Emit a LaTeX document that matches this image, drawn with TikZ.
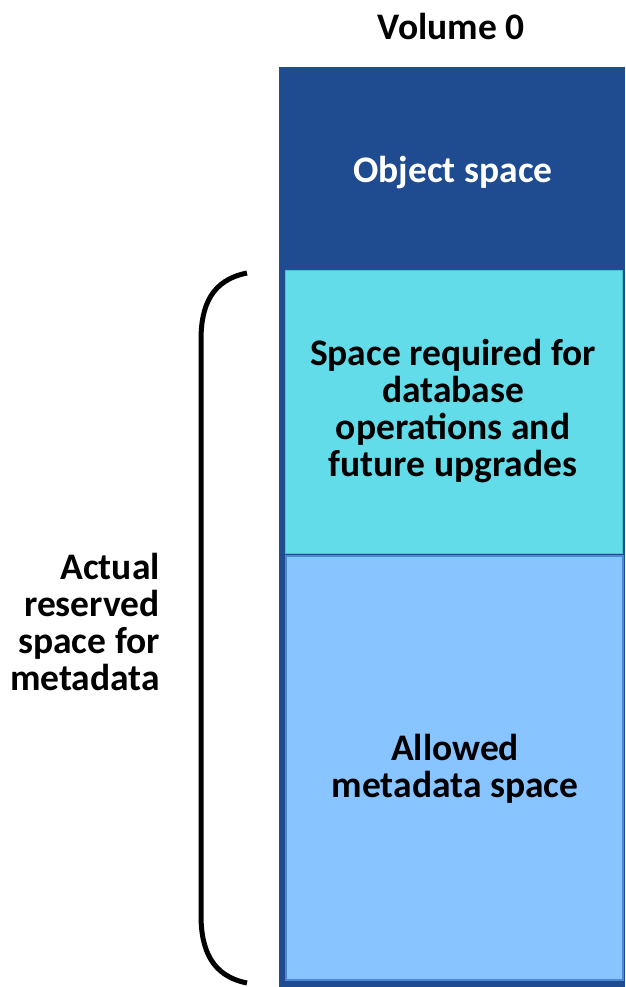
\documentclass[tikz,border=0pt]{standalone}
\usepackage{fontspec}
\setmainfont{Carlito}
\definecolor{darkblue}{HTML}{1F4B91}
\definecolor{cyanbox}{HTML}{62DCE8}
\definecolor{cyanedge}{HTML}{4CC3D0}
\definecolor{lightbox}{HTML}{88C4FF}
\definecolor{lightedge}{HTML}{4F86D6}
\begin{document}
\begin{tikzpicture}[x=1pt,y=-1pt,
  lbl/.style={font=\fontsize{37.5}{37}\selectfont\bfseries, align=center, inner sep=0pt},
  region/.style={rectangle, inner sep=0pt, anchor=north west}]
\useasboundingbox (0,0) rectangle (625,987);
\node[region, fill=darkblue, minimum width=346pt, minimum height=920pt] (outer) at (279,67) {};
\node[region, fill=cyanbox, draw=cyanedge, line width=1.2pt, minimum width=337pt, minimum height=283pt] (req) at (285,270) {};
\node[region, fill=lightbox, draw=lightedge, line width=2pt, minimum width=337pt, minimum height=424pt] (allowed) at (285,555) {};
\node[lbl] (vol) at (451,26) {Volume 0};
\node[lbl, text=white] (obj) at (453,173) {Object space};
\node[lbl] (reqt) at (453,411) {Space required for\\database\\operations and\\future upgrades};
\node[lbl] (allt) at (455,769) {Allowed\\metadata space};
\node[lbl, align=right, anchor=east] (act) at (160,622) {Actual\\reserved\\space for\\metadata};
\coordinate (bt) at (247,273);
\coordinate (bb) at (247,983);
\draw[line width=5pt] (bt) .. controls (212,280) and (201,305) .. (201,340) -- (201,915) .. controls (201,950) and (212,976) .. (bb);
\end{tikzpicture}
\end{document}
